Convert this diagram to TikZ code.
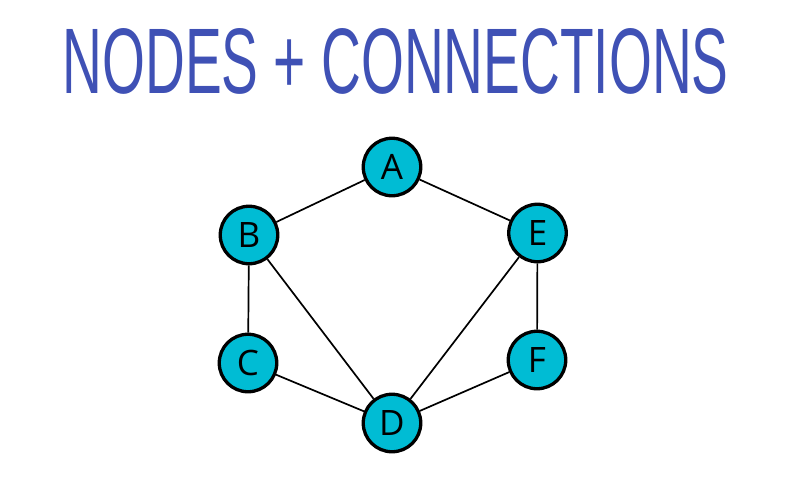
\documentclass[tikz,border=0pt]{standalone}
\usepackage{fontspec}
\setmainfont{Liberation Sans}
\newfontfamily\labelfont{Open Sans}
\definecolor{titleblue}{HTML}{3F51B5}
\definecolor{nodecyan}{HTML}{00BCD4}
\begin{document}
\begin{tikzpicture}[x=1pt,y=-1pt,
  vertex/.style={circle, draw=black, line width=3.3pt, fill=nodecyan,
    minimum size=57.5pt, inner sep=0pt,
    font=\labelfont\fontsize{35}{35}\selectfont},
  link/.style={draw=black, line width=1.7pt}]
  \useasboundingbox (0,0) rectangle (796,488);

  % heading
  \node[anchor=south west, inner sep=0pt, text=titleblue] (title) at (62.5,95)
    {\resizebox{666pt}{65pt}{\fontsize{91}{91}\selectfont NODES + CONNECTIONS}};

  % graph vertices
  \node[vertex] (A) at (392,167) {A};
  \node[vertex] (B) at (249,235) {B};
  \node[vertex] (C) at (248,363) {C};
  \node[vertex] (D) at (392,423) {D};
  \node[vertex] (E) at (537.5,233) {E};
  \node[vertex] (F) at (537,360) {F};

  % connections
  \path[link] (A) -- (B);
  \path[link] (A) -- (E);
  \path[link] (B) -- (C);
  \path[link] (B) -- (D);
  \path[link] (C) -- (D);
  \path[link] (D) -- (E);
  \path[link] (D) -- (F);
  \path[link] (E) -- (F);
\end{tikzpicture}
\end{document}
